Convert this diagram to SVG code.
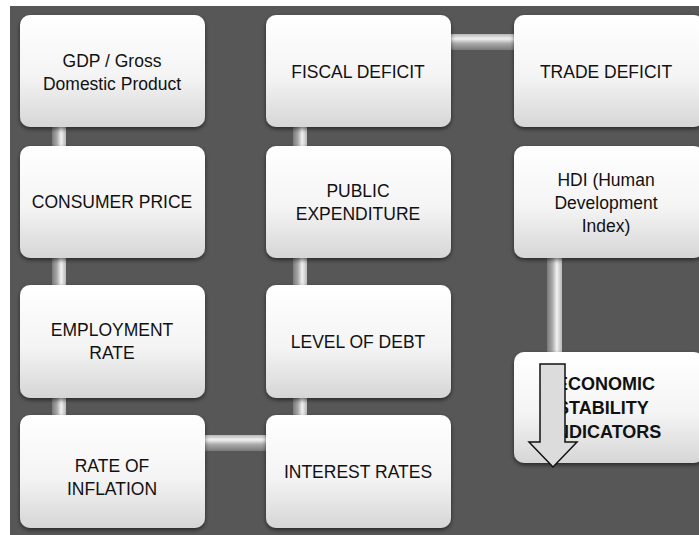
<svg xmlns="http://www.w3.org/2000/svg" width="699" height="535" viewBox="0 0 699 535">
  <defs>
    <linearGradient id="boxFill" x1="0" y1="0" x2="0" y2="1">
      <stop offset="0" stop-color="#ffffff"/>
      <stop offset="0.55" stop-color="#f4f4f4"/>
      <stop offset="1" stop-color="#d6d6d6"/>
    </linearGradient>
    <linearGradient id="barV" x1="0" y1="0" x2="1" y2="0">
      <stop offset="0" stop-color="#7a7a7a"/>
      <stop offset="0.35" stop-color="#a8a8a8"/>
      <stop offset="0.65" stop-color="#f2f2f2"/>
      <stop offset="1" stop-color="#b8b8b8"/>
    </linearGradient>
    <linearGradient id="barH" x1="0" y1="0" x2="0" y2="1">
      <stop offset="0" stop-color="#b8b8b8"/>
      <stop offset="0.3" stop-color="#f2f2f2"/>
      <stop offset="0.6" stop-color="#a8a8a8"/>
      <stop offset="1" stop-color="#7a7a7a"/>
    </linearGradient>
    <filter id="shadow" x="-10%" y="-10%" width="120%" height="125%">
      <feDropShadow dx="0" dy="2" stdDeviation="2" flood-color="#000" flood-opacity="0.55"/>
    </filter>
  </defs>
  <style>
    .box { fill: url(#boxFill); filter: url(#shadow); }
    .lbl { font-family: "Liberation Sans", Arial, sans-serif; font-size: 17.5px; fill: #111; text-anchor: middle; }
    .bold { font-family: "Liberation Sans", Arial, sans-serif; font-size: 18px; font-weight: bold; fill: #111; }
  </style>

  <!-- backdrop -->
  <rect x="10" y="6" width="689" height="529" fill="#575757"/>

  <!-- connectors -->
  <g id="connectors">
    <rect x="52" y="120" width="14" height="300" fill="url(#barV)"/>
    <rect x="293" y="120" width="14" height="300" fill="url(#barV)"/>
    <rect x="547" y="250" width="15" height="105" fill="url(#barV)"/>
    <rect x="440" y="34" width="80" height="16" fill="url(#barH)"/>
    <rect x="195" y="435" width="80" height="16" fill="url(#barH)"/>
  </g>

  <!-- column 1 -->
  <g id="gdp">
    <rect class="box" x="20" y="15" width="185" height="112" rx="10"/>
    <text class="lbl" x="112" y="67">GDP / Gross</text>
    <text class="lbl" x="112" y="90">Domestic Product</text>
  </g>
  <g id="consumer-price">
    <rect class="box" x="20" y="146" width="185" height="112" rx="10"/>
    <text class="lbl" x="112" y="208">CONSUMER PRICE</text>
  </g>
  <g id="employment-rate">
    <rect class="box" x="20" y="285" width="185" height="113" rx="10"/>
    <text class="lbl" x="112" y="336">EMPLOYMENT</text>
    <text class="lbl" x="112" y="359">RATE</text>
  </g>
  <g id="rate-of-inflation">
    <rect class="box" x="20" y="415" width="185" height="113" rx="10"/>
    <text class="lbl" x="112" y="472">RATE OF</text>
    <text class="lbl" x="112" y="495">INFLATION</text>
  </g>

  <!-- column 2 -->
  <g id="fiscal-deficit">
    <rect class="box" x="266" y="15" width="185" height="112" rx="10"/>
    <text class="lbl" x="358" y="78">FISCAL DEFICIT</text>
  </g>
  <g id="public-expenditure">
    <rect class="box" x="266" y="146" width="185" height="112" rx="10"/>
    <text class="lbl" x="358" y="197">PUBLIC</text>
    <text class="lbl" x="358" y="220">EXPENDITURE</text>
  </g>
  <g id="level-of-debt">
    <rect class="box" x="266" y="285" width="185" height="113" rx="10"/>
    <text class="lbl" x="358" y="348">LEVEL OF DEBT</text>
  </g>
  <g id="interest-rates">
    <rect class="box" x="266" y="415" width="185" height="113" rx="10"/>
    <text class="lbl" x="358" y="478">INTEREST RATES</text>
  </g>

  <!-- column 3 -->
  <g id="trade-deficit">
    <rect class="box" x="514" y="15" width="190" height="112" rx="10"/>
    <text class="lbl" x="606" y="78">TRADE DEFICIT</text>
  </g>
  <g id="hdi">
    <rect class="box" x="514" y="146" width="190" height="112" rx="10"/>
    <text class="lbl" x="606" y="186">HDI (Human</text>
    <text class="lbl" x="606" y="209">Development</text>
    <text class="lbl" x="606" y="232">Index)</text>
  </g>
  <g id="economic-stability">
    <rect class="box" x="514" y="352" width="190" height="111" rx="10"/>
    <text class="bold" x="556" y="390">ECONOMIC</text>
    <text class="bold" x="557" y="414">STABILITY</text>
    <text class="bold" x="551" y="438">INDICATORS</text>
    <!-- block arrow pointing down -->
    <path d="M540,364 H565 V442 H577 L553,467 L529,442 H540 Z" fill="#dcdcdc" stroke="#111" stroke-width="1.5" stroke-linejoin="miter"/>
  </g>
</svg>
